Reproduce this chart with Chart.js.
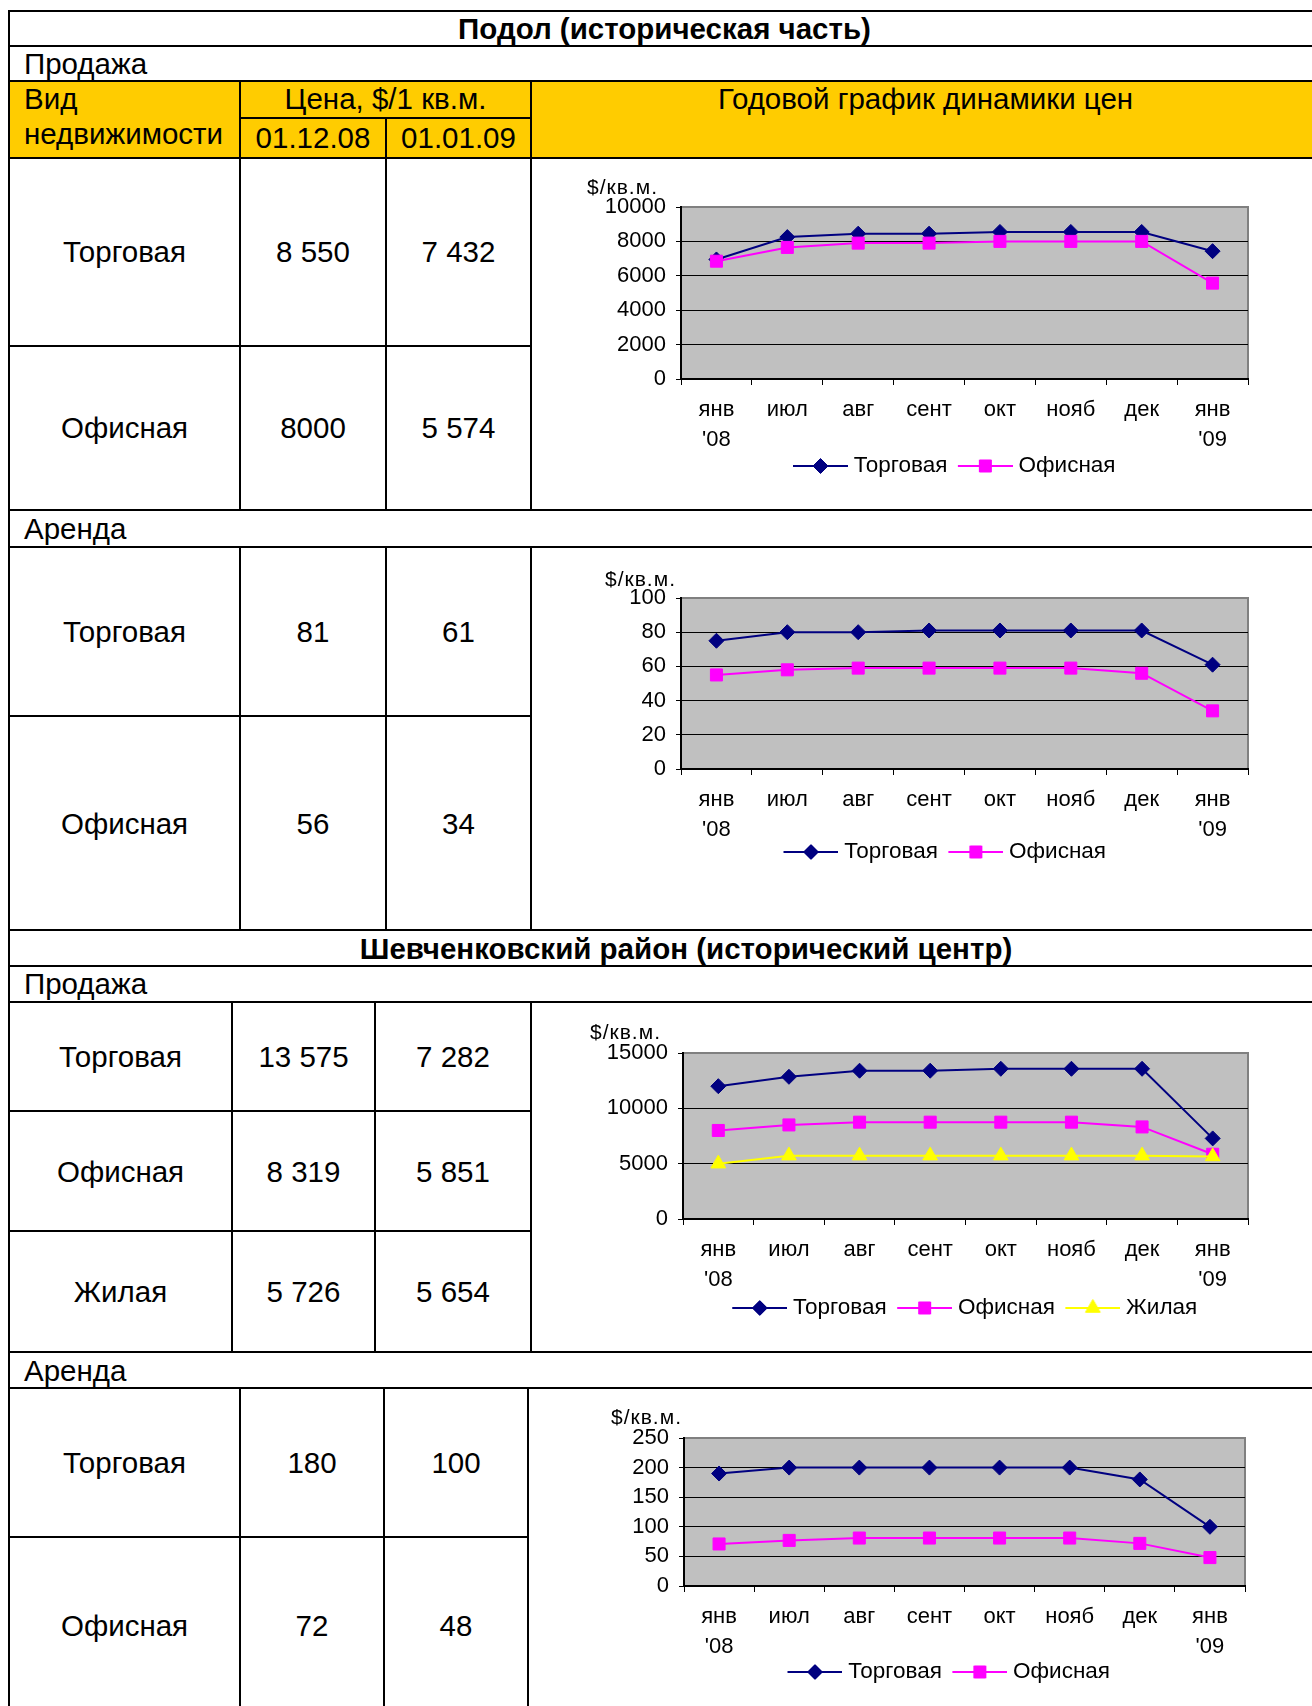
<!DOCTYPE html>
<html><head><meta charset="utf-8">
<script src="https://cdn.jsdelivr.net/npm/chart.js@4/dist/chart.umd.min.js"></script>
<style>
html,body{margin:0;padding:0;background:#fff;}
body{width:1312px;height:1706px;position:relative;overflow:hidden;font-family:"Liberation Sans",Arial,sans-serif;color:#000;}
.ln{position:absolute;background:#000;}
.t{position:absolute;font-size:29.5px;line-height:1.15;white-space:nowrap;}
.c{transform:translate(-50%,-50%);}
.l{transform:translate(0,-50%);}
.b{font-weight:bold;}
.fill{position:absolute;background:#FFCC00;}
canvas{position:absolute;}
.unit{position:absolute;font-size:21px;line-height:1.15;letter-spacing:1px;white-space:nowrap;transform:translate(0,-50%);}
</style></head><body>
<script>
// ---------- chart data ----------
const categories = [['янв', "'08"], 'июл', 'авг', 'сент', 'окт', 'нояб', 'дек', ['янв', "'09"]];

const podolSaleRetail = [6950, 8250, 8450, 8450, 8550, 8550, 8550, 7432];
const podolSaleOffice = [6850, 7650, 7900, 7900, 8000, 8000, 8000, 5574];
const podolSaleTicks = [0, 2000, 4000, 6000, 8000, 10000];

const podolRentRetail = [75, 80, 80, 81, 81, 81, 81, 61];
const podolRentOffice = [55, 58, 59, 59, 59, 59, 56, 34];
const podolRentTicks = [0, 20, 40, 60, 80, 100];

const shevSaleRetail = [12000, 12850, 13400, 13400, 13575, 13575, 13575, 7282];
const shevSaleOffice = [8000, 8500, 8750, 8750, 8750, 8750, 8319, 5851];
const shevSaleResid = [5000, 5726, 5726, 5726, 5726, 5726, 5726, 5654];
const shevSaleTicks = [0, 5000, 10000, 15000];

const shevRentRetail = [190, 200, 200, 200, 200, 200, 180, 100];
const shevRentOffice = [71, 77, 81, 81, 81, 81, 72, 48];
const shevRentTicks = [0, 50, 100, 150, 200, 250];

const seriesNames = {retail: 'Торговая', office: 'Офисная', resid: 'Жилая'};
const unitLabel = '$/кв.м.';

// ---------- table text ----------
const title1 = 'Подол (историческая часть)';
const title2 = 'Шевченковский район (исторический центр)';
const saleLabel = 'Продажа';
const rentLabel = 'Аренда';
const headType = ['Вид', 'недвижимости'];
const headPrice = 'Цена, $/1 кв.м.';
const headDates = ['01.12.08', '01.01.09'];
const headChart = 'Годовой график динамики цен';
const podolSaleRows = [['Торговая', '8 550', '7 432'], ['Офисная', '8000', '5 574']];
const podolRentRows = [['Торговая', '81', '61'], ['Офисная', '56', '34']];
const shevSaleRows = [['Торговая', '13 575', '7 282'], ['Офисная', '8 319', '5 851'], ['Жилая', '5 726', '5 654']];
const shevRentRows = [['Торговая', '180', '100'], ['Офисная', '72', '48']];

// ---------- layout helpers ----------
const B = document.body;
function add(cls, css, text) {
  const d = document.createElement('div');
  d.className = cls;
  Object.assign(d.style, css);
  if (text !== undefined) d.textContent = text;
  B.appendChild(d);
  return d;
}
function hl(y, x1, x2) { add('ln', {left: (x1 - 1) + 'px', top: (y - 1) + 'px', width: (x2 - x1 + 2) + 'px', height: '2px'}); }
function vl(x, y1, y2) { add('ln', {left: (x - 1) + 'px', top: (y1 - 1) + 'px', width: '2px', height: (y2 - y1 + 2) + 'px'}); }
function tc(x, y, s, bold) { add('t c' + (bold ? ' b' : ''), {left: x + 'px', top: y + 'px'}, s); }
function tl(x, y, s) { add('t l', {left: x + 'px', top: y + 'px'}, s); }

const TL = 9, TR = 1320;
add('fill', {left: TL + 'px', top: '81px', width: (TR - TL) + 'px', height: '77px'});

// full-width lines
[11, 46, 81, 157.5, 510, 547, 930, 966, 1002, 1352, 1388].forEach(y => hl(y, TL, TR));
// partial lines
hl(117.5, 240, 531);
hl(346, TL, 531); hl(716, TL, 531);
hl(1111, TL, 531); hl(1231, TL, 531);
hl(1537, TL, 528);
// verticals
vl(TL, 11, 1710);
vl(240, 81, 510); vl(386, 117.5, 510); vl(531, 81, 510);
vl(240, 547, 930); vl(386, 547, 930); vl(531, 547, 930);
vl(232, 1002, 1352); vl(375, 1002, 1352); vl(531, 1002, 1352);
vl(240, 1388, 1710); vl(384, 1388, 1710); vl(528, 1388, 1710);

// texts
tc(664.5, 29, title1, true);
tl(24, 63.5, saleLabel);
tl(24, 99, headType[0]); tl(24, 134, headType[1]);
tc(385.5, 99, headPrice);
tc(313, 137.5, headDates[0]); tc(458.5, 137.5, headDates[1]);
tc(925.5, 99, headChart);
function rows(data, xs, ys) { data.forEach((r, i) => r.forEach((s, j) => tc(xs[j], ys[i], s))); }
rows(podolSaleRows, [124.5, 313, 458.5], [252, 428]);
tl(24, 528.5, rentLabel);
rows(podolRentRows, [124.5, 313, 458.5], [632, 823.5]);
tc(686, 948.5, title2, true);
tl(24, 984, saleLabel);
rows(shevSaleRows, [120.5, 303.5, 453], [1057, 1171.5, 1292]);
tl(24, 1370.5, rentLabel);
rows(shevRentRows, [124.5, 312, 456], [1463, 1626]);

// ---------- charts ----------
Chart.defaults.font.family = '"Liberation Sans", Arial, sans-serif';
Chart.defaults.font.size = 22;
Chart.defaults.color = '#000';

const STYLE = {
  retail: {color: '#000080', pointStyle: 'rectRot', radius: 7.5},
  office: {color: '#FF00FF', pointStyle: 'rect', radius: 8.5},
  resid: {color: '#FFFF00', pointStyle: 'triangle', radius: 8.5}
};
const LEGEND_FONT = 22.5;
const LEGEND_PAD = 10;
const ICON_W = 50;          // legend box width used by Chart.js
const ICON_CANVAS_W = 61;   // drawn icon (line sits in the right part)
const ICON_LINE = 55;

function legendIcon(st) {
  const c = document.createElement('canvas');
  c.width = ICON_CANVAS_W; c.height = 22;
  const g = c.getContext('2d');
  g.strokeStyle = st.color; g.fillStyle = st.color; g.lineWidth = 2;
  const x0 = ICON_CANVAS_W - ICON_LINE;
  g.beginPath(); g.moveTo(x0, 11); g.lineTo(ICON_CANVAS_W, 11); g.stroke();
  g.lineWidth = 1;
  Chart.helpers.drawPoint(g, {pointStyle: st.pointStyle, radius: st.radius, rotation: 0, borderWidth: 1}, x0 + ICON_LINE / 2, 11);
  return c;
}

const plotBg = {
  id: 'plotBg',
  beforeDraw(chart) {
    const {ctx, chartArea: a} = chart;
    ctx.save();
    ctx.fillStyle = '#C0C0C0';
    ctx.fillRect(a.left, a.top, a.right - a.left, a.bottom - a.top);
    ctx.strokeStyle = '#808080'; ctx.lineWidth = 2;
    ctx.beginPath(); ctx.moveTo(a.left, a.top); ctx.lineTo(a.right, a.top); ctx.lineTo(a.right, a.bottom); ctx.stroke();
    ctx.restore();
  }
};

const legendShift = {
  id: 'legendShift',
  afterLayout(chart, args, opts) {
    const lg = chart.legend;
    if (!lg) return;
    lg.left += opts.dx; lg.right += opts.dx;
    lg.top += opts.dy; lg.bottom += opts.dy;
  }
};

function makeChart(cfg) {
  const cv = document.createElement('canvas');
  cv.width = cfg.w; cv.height = cfg.h;
  cv.style.left = cfg.x + 'px'; cv.style.top = cfg.y + 'px';
  cv.style.width = cfg.w + 'px'; cv.style.height = cfg.h + 'px';
  B.appendChild(cv);
  add('unit', {left: cfg.unit[0] + 'px', top: cfg.unit[1] + 'px'}, unitLabel);

  const a = cfg.area;
  const xH = 69;
  const yW = a.l - cfg.x;
  const padTop = a.t - cfg.y;
  const padRight = cfg.x + cfg.w - a.r;
  const legendH = LEGEND_FONT + LEGEND_PAD + 10;
  const padBottom = Math.max(0, cfg.y + cfg.h - a.b - xH - legendH);
  const dy = cfg.legendOffset - xH - LEGEND_PAD - LEGEND_FONT / 2;
  const dx = cfg.legendCenter - (a.l + a.r) / 2;
  const ticks = cfg.ticks;
  const maxV = ticks[ticks.length - 1];
  const n = cfg.series.length;

  const datasets = cfg.series.map((s, i) => {
    const st = STYLE[s.key];
    return {
      label: seriesNames[s.key],
      data: s.data,
      borderColor: st.color,
      backgroundColor: st.color,
      borderWidth: 2,
      pointStyle: st.pointStyle,
      pointRadius: st.radius,
      pointHoverRadius: st.radius,
      pointBackgroundColor: st.color,
      pointBorderColor: st.color,
      pointBorderWidth: 1,
      tension: 0,
      fill: false,
      clip: false,
      order: n - i
    };
  });

  new Chart(cv, {
    type: 'line',
    data: {labels: categories, datasets},
    plugins: [plotBg, legendShift],
    options: {
      responsive: false,
      animation: false,
      devicePixelRatio: 1,
      layout: {padding: {left: 0, top: padTop, right: padRight, bottom: padBottom}},
      plugins: {
        tooltip: {enabled: false},
        legendShift: {dx, dy},
        legend: {
          position: 'bottom',
          fullSize: false,
          labels: {
            usePointStyle: true,
            pointStyleWidth: ICON_W,
            padding: LEGEND_PAD,
            color: '#000',
            font: {size: LEGEND_FONT},
            generateLabels(chart) {
              return chart.data.datasets.map((ds, i) => ({
                text: ds.label,
                pointStyle: legendIcon(STYLE[cfg.series[i].key]),
                fillStyle: ds.borderColor,
                strokeStyle: ds.borderColor,
                lineWidth: 0,
                hidden: false,
                datasetIndex: i,
                fontColor: '#000'
              }));
            }
          }
        }
      },
      scales: {
        x: {
          type: 'category',
          offset: true,
          grid: {display: true, offset: true, drawOnChartArea: false, drawTicks: true, tickLength: 6, color: '#000', lineWidth: 1},
          border: {display: true, color: '#000', width: 2},
          ticks: {autoSkip: false, maxRotation: 0, minRotation: 0, padding: 10, color: '#000', font: {size: 22, lineHeight: 30 / 22}},
          afterFit: (sc) => { sc.height = xH; }
        },
        y: {
          min: ticks[0],
          max: maxV,
          afterBuildTicks: (sc) => { sc.ticks = ticks.map(v => ({value: v})); },
          grid: {
            display: true, drawTicks: true, tickLength: 5, lineWidth: 1,
            color: (c) => (c.tick && c.tick.value === maxV) ? 'rgba(0,0,0,0)' : '#000',
            tickColor: '#000'
          },
          border: {display: true, color: '#000', width: 2},
          ticks: {padding: 10, color: '#000', font: {size: 22}, callback: (v) => String(v)},
          afterFit: (sc) => { sc.width = yW; }
        }
      }
    }
  });
}

makeChart({x: 533, y: 159, w: 779, h: 349, area: {l: 681, r: 1248, t: 207, b: 379}, legendOffset: 87, legendCenter: 954,
  unit: [587, 186.5], ticks: podolSaleTicks,
  series: [{key: 'retail', data: podolSaleRetail}, {key: 'office', data: podolSaleOffice}]});
makeChart({x: 533, y: 549, w: 779, h: 379, area: {l: 681, r: 1248, t: 598, b: 769}, legendOffset: 83, legendCenter: 944.5,
  unit: [605, 579], ticks: podolRentTicks,
  series: [{key: 'retail', data: podolRentRetail}, {key: 'office', data: podolRentOffice}]});
makeChart({x: 533, y: 1004, w: 779, h: 346, area: {l: 683, r: 1248, t: 1053, b: 1219}, legendOffset: 89, legendCenter: 964.5,
  unit: [590, 1031.5], ticks: shevSaleTicks,
  series: [{key: 'retail', data: shevSaleRetail}, {key: 'office', data: shevSaleOffice}, {key: 'resid', data: shevSaleResid}]});
makeChart({x: 530, y: 1390, w: 782, h: 316, area: {l: 684, r: 1245, t: 1438, b: 1586}, legendOffset: 86, legendCenter: 948.5,
  unit: [611, 1417], ticks: shevRentTicks,
  series: [{key: 'retail', data: shevRentRetail}, {key: 'office', data: shevRentOffice}]});
</script>
</body></html>
